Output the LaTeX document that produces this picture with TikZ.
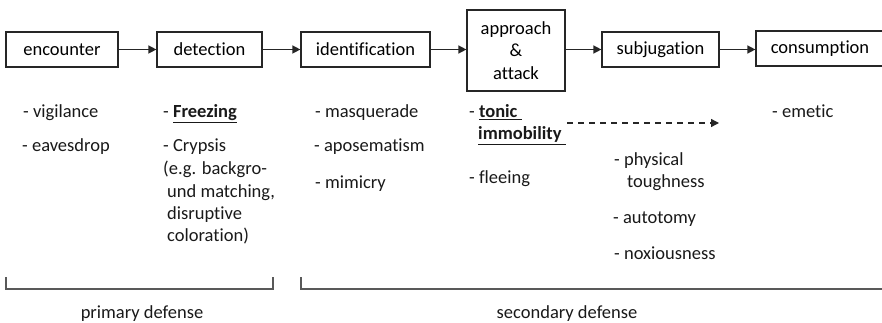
\documentclass[tikz,border=0pt]{standalone}
\usepackage{fontspec}
\setmainfont{Carlito}[Ligatures=NoCommon]
\usetikzlibrary{arrows.meta}
\begin{document}
\begin{tikzpicture}[x=1pt,y=-1pt,
  font=\fontsize{18.5}{22.5}\selectfont,
  box/.style={draw=black!85, line width=1.2pt, inner sep=0pt, align=center},
  arr/.style={draw=black!85, line width=1.4pt, -{Triangle[length=8pt,width=8pt]}},
  darr/.style={draw=black!85, line width=1.3pt, dash pattern=on 6pt off 5pt, -{Triangle[length=8pt,width=8pt]}},
  item/.style={anchor=base west, inner sep=0pt, text=black!90},
  brk/.style={draw=black!65, line width=1.3pt},
  lab/.style={anchor=base, inner sep=0pt, text=black!90}]
\useasboundingbox (0,0) rectangle (882,323);
% process boxes
\node[box, minimum width=112pt, minimum height=35pt] (enc) at (62,49.5) {encounter};
\node[box, minimum width=105pt, minimum height=35pt] (det) at (209.5,49.5) {detection};
\node[box, minimum width=129pt, minimum height=35pt] (ide) at (365.5,49.5) {identification};
\node[box, minimum width=98pt, minimum height=81pt] (app) at (516,50.5) {approach\\\&\\attack};
\node[box, minimum width=117pt, minimum height=35pt] (sub) at (660.5,49.5) {subjugation};
\node[box, minimum width=128pt, minimum height=35pt] (con) at (820,48.5) {consumption};
\draw[arr] (enc.east) -- (det.west);
\draw[arr] (det.east) -- (ide.west);
\draw[arr] (ide.east) -- (app.west |- ide.east);
\draw[arr] (app.east |- sub.west) -- (sub.west);
\draw[arr] (sub.east) -- (con.west |- sub.east);
% encounter column
\node[item] (vig) at (23,118) {- vigilance};
\node[item] (eav) at (22,152) {- eavesdrop};
% detection column
\node[item] (fre) at (163,118) {- \underline{\textbf{Freezing}}};
\node[item] (cry) at (163,152) {- Crypsis};
\node[item] (eg1) at (163,175) {(e.g. backgro-};
\node[item] (eg2) at (167,197) {und matching,};
\node[item] (eg3) at (167,219) {disruptive};
\node[item] (eg4) at (167,241) {coloration)};
% identification column
\node[item] (mas) at (315,118) {- masquerade};
\node[item] (apo) at (314,152) {- aposematism};
\node[item] (mim) at (315,188) {- mimicry};
% approach column
\node[item] (ton) at (469,118) {- \underline{\textbf{tonic\ }}};
\node[item] (imm) at (478,140) {\underline{\textbf{immobility\ }}};
\node[item] (fle) at (469,183) {- fleeing};
% subjugation column
\node[item] (phy) at (614,165) {- physical};
\node[item] (tou) at (627,187) {toughness};
\node[item] (aut) at (613,223) {- autotomy};
\node[item] (nox) at (614,259) {- noxiousness};
% consumption column
\node[item] (eme) at (772,118) {- emetic};
% dashed arrow
\coordinate (d1) at (567,123);
\coordinate (d2) at (719,123);
\draw[darr] (d1) -- (d2);
% brackets
\coordinate (p1) at (6,277);
\coordinate (p2) at (273,277);
\coordinate (s1) at (301,277);
\coordinate (s2) at (890,289);
\draw[brk] (p1) |- (273,289) -- (p2);
\draw[brk] (s1) |- (s2);
\node[lab] (pri) at (142,318) {primary defense};
\node[lab] (sec) at (567,318) {secondary defense};
\end{tikzpicture}
\end{document}
